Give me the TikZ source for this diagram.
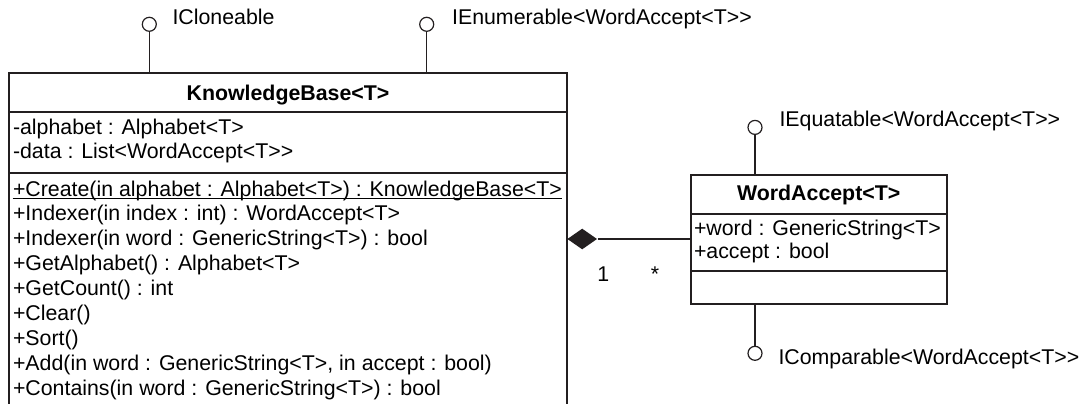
\documentclass[tikz,border=0pt]{standalone}
\usepackage{fontspec}
\setmainfont{Liberation Sans}[Ligatures=TeXOff]
\usetikzlibrary{shapes.geometric}

\tikzset{every picture/.style={line width=0.75pt}}
\tikzset{
	classline/.style={draw={rgb, 255:red, 35; green, 31; blue, 32 }, line width=1.5pt},
	lollyline/.style={draw={rgb, 255:red, 35; green, 31; blue, 32 }, line width=1pt},
	lolly/.style={circle, draw={rgb, 255:red, 35; green, 31; blue, 32 }, line width=0.9pt, fill=white, minimum size=10.5pt, inner sep=0pt},
	memb/.style={anchor=base west, inner sep=0pt, font=\fontsize{16}{20}\selectfont},
	ctitle/.style={anchor=base, inner sep=0pt, font=\fontsize{16}{20}\selectfont\bfseries},
	composite/.style={diamond, fill={rgb, 255:red, 35; green, 31; blue, 32 }, minimum width=22.5pt, minimum height=15.75pt, inner sep=0pt}
}

\begin{document}
\begin{tikzpicture}[x=0.75pt,y=0.75pt,yscale=-1,xscale=1]
	\useasboundingbox (0,0) rectangle (1087,403);
	\clip (0,0) rectangle (1087,403);

	%Shape: KnowledgeBase class box
	\coordinate (kbnw) at (9.3,73.3);
	\coordinate (kbse) at (566.7,440);
	\draw [classline] (kbnw) rectangle (kbse);
	\draw [classline] (9.3,112) -- (566.7,112);
	\draw [classline] (9.3,173) -- (566.7,173);

	%Shape: WordAccept class box
	\coordinate (wanw) at (691,175);
	\coordinate (wase) at (946.5,304);
	\draw [classline] (wanw) rectangle (wase);
	\draw [classline] (691,213.5) -- (946.5,213.5);
	\draw [classline] (691,270.5) -- (946.5,270.5);

	% Text Node
	\node (kbtitle) [ctitle] at (288,100) {KnowledgeBase<T>};
	% Text Node
	\node (kbalpha) [memb] at (12.5,134) {-alphabet : Alphabet<T>};
	% Text Node
	\node (kbdata) [memb] at (12.5,158.5) {-data : List<WordAccept<T>>};
	% Text Node
	\node (kbcreate) [memb] at (12.5,196) {+Create(in alphabet : Alphabet<T>) : KnowledgeBase<T>};
	\draw [line width=0.75pt] ([yshift=2pt]kbcreate.base west) -- ([yshift=2pt]kbcreate.base east);
	% Text Node
	\node (kbidx) [memb] at (12.5,220.9) {+Indexer(in index : int) : WordAccept<T>};
	% Text Node
	\node (kbidxw) [memb] at (12.5,245.8) {+Indexer(in word : GenericString<T>) : bool};
	% Text Node
	\node (kbgeta) [memb] at (12.5,270.7) {+GetAlphabet() : Alphabet<T>};
	% Text Node
	\node (kbgetc) [memb] at (12.5,295.6) {+GetCount() : int};
	% Text Node
	\node (kbclear) [memb] at (12.5,320.5) {+Clear()};
	% Text Node
	\node (kbsort) [memb] at (12.5,345.4) {+Sort()};
	% Text Node
	\node (kbadd) [memb] at (12.5,370.3) {+Add(in word : GenericString<T>, in accept : bool)};
	% Text Node
	\node (kbcont) [memb] at (12.5,395.2) {+Contains(in word : GenericString<T>) : bool};

	% Text Node
	\node (watitle) [ctitle] at (818.7,200.5) {WordAccept<T>};
	% Text Node
	\node (waword) [memb] at (693.5,235) {+word : GenericString<T>};
	% Text Node
	\node (waacc) [memb] at (693.5,258.5) {+accept : bool};

	%Shape: Lollipops
	\node (icl) [lolly] at (149.3,24.3) {};
	\node (icllbl) [memb] at (172,25) {ICloneable};
	\draw [lollyline] (icl) -- (icl |- kbnw);

	\node (ienum) [lolly] at (426.7,24.3) {};
	\node (ienumlbl) [memb] at (451.6,25) {IEnumerable<WordAccept<T>>};
	\draw [lollyline] (ienum) -- (ienum |- kbnw);

	\node (ieq) [lolly] at (755,127.4) {};
	\node (ieqlbl) [memb] at (779,126) {IEquatable<WordAccept<T>>};
	\draw [lollyline] (ieq) -- (ieq |- wanw);

	\node (icmp) [lolly] at (755,353.3) {};
	\node (icmplbl) [memb] at (778,364) {IComparable<WordAccept<T>>};
	\draw [lollyline] (icmp) -- (icmp |- wase);

	%Shape: Composition
	\node (comp) [composite, anchor=west] at (566.7,239) {};
	\draw [lollyline] (comp.east) -- (comp.east -| wanw);
	% Text Node
	\node (mone) [memb, anchor=base] at (603.3,281.7) {1};
	% Text Node
	\node (mmany) [memb, anchor=base] at (655,281.7) {*};

\end{tikzpicture}
\end{document}
